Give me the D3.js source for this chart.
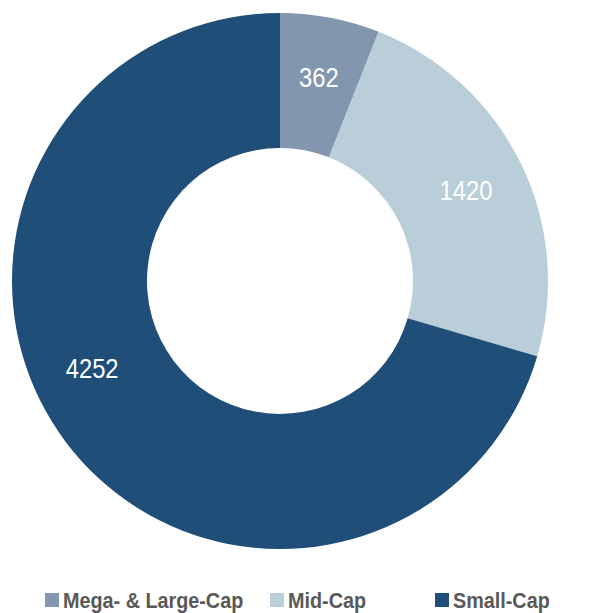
<!DOCTYPE html>
<html>
<head>
<meta charset="utf-8">
<script src="https://cdn.jsdelivr.net/npm/d3@7"></script>
<style>
  html, body { margin: 0; padding: 0; background: #ffffff; }
  svg { display: block; }
</style>
</head>
<body>
<svg id="chart" width="604" height="613"></svg>
<script>
// Number of companies by market-cap group
const categories = ["Mega- & Large-Cap", "Mid-Cap", "Small-Cap"];
const counts = [362, 1420, 4252];
const colors = ["#8296ae", "#b9ced8", "#1f4e78"];

const svg = d3.select("#chart");
const cx = 280, cy = 281;
const outerR = 268, innerR = 133, labelR = 207;
const font = "'Liberation Sans', Arial, sans-serif";
// horizontal squeeze giving the condensed look of a narrow face
const squeeze = 0.88;

const data = categories.map((c, i) => ({ name: c, value: counts[i], color: colors[i] }));

const pie = d3.pie().value(d => d.value).sort(null);
const arcs = pie(data);
const arc = d3.arc().innerRadius(innerR).outerRadius(outerR);
const labelArc = d3.arc().innerRadius(labelR).outerRadius(labelR);

const g = svg.append("g").attr("transform", `translate(${cx},${cy})`);

g.selectAll("path.slice")
  .data(arcs)
  .join("path")
  .attr("class", "slice")
  .attr("d", arc)
  .attr("fill", d => d.data.color);

// value labels: the large slice's label sits a little further round the ring
const labelShift = { "Small-Cap": 12 * Math.PI / 180 };
g.selectAll("text.value")
  .data(arcs)
  .join("text")
  .attr("class", "value")
  .attr("transform", d => {
    const s = labelShift[d.data.name] || 0;
    const p = labelArc.centroid({ startAngle: d.startAngle + s, endAngle: d.endAngle + s });
    return `translate(${p[0]},${p[1]}) scale(${squeeze},1)`;
  })
  .attr("text-anchor", "middle")
  .attr("dominant-baseline", "central")
  .attr("fill", "#ffffff")
  .style("font-family", font)
  .style("font-size", "27px")
  .text(d => d.data.value);

// legend along the bottom
const legendPos = { "Mega- & Large-Cap": 45, "Mid-Cap": 270, "Small-Cap": 435 };
const items = svg.append("g").selectAll("g.item")
  .data(data)
  .join("g")
  .attr("class", "item")
  .attr("transform", d => `translate(${legendPos[d.name]},593)`);

items.append("rect")
  .attr("width", 14)
  .attr("height", 14)
  .attr("fill", d => d.color);

items.append("text")
  .attr("transform", `translate(18,7) scale(0.9,1)`)
  .attr("dominant-baseline", "central")
  .attr("fill", "#595959")
  .style("font-family", font)
  .style("font-weight", "bold")
  .style("font-size", "22px")
  .text(d => d.name);
</script>
</body>
</html>
